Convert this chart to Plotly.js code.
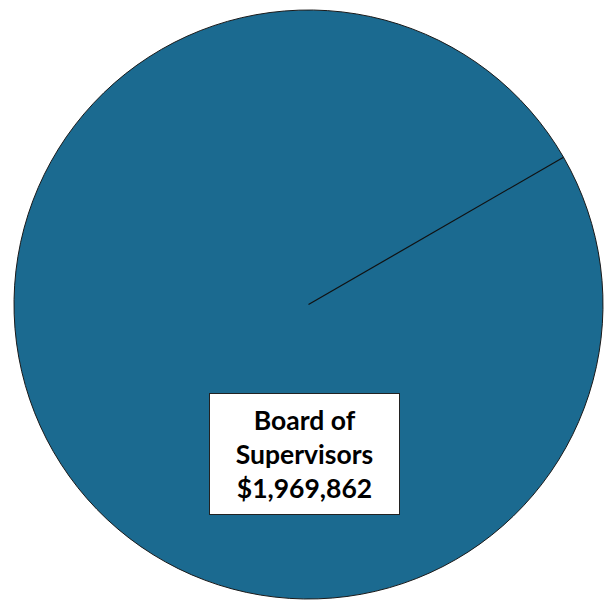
<!DOCTYPE html>
<html>
<head>
<meta charset="utf-8">
<script src="https://cdn.plot.ly/plotly-3.0.1.min.js"></script>
<style>html,body{margin:0;padding:0;background:#fff;}#chart{width:607px;height:601px;}</style>
</head>
<body>
<div id="chart"></div>
<script>
var labels = ['Board of Supervisors'];
var labelLines = ['Board of<br>Supervisors'];
var values = [1969862];
var colors = ['#1b6a90'];
var startAngle = 60;

var W = 607, H = 601;
var margin = {l: 11, r: 1, t: 10, b: 2, pad: 0};
var pw = W - margin.l - margin.r, ph = H - margin.t - margin.b;
var rpx = Math.min(pw, ph) / 2;
var a = startAngle * Math.PI / 180;

function fmt(v) { return '$' + v.toLocaleString('en-US'); }

var data = [{
  type: 'pie',
  labels: labels,
  values: values,
  sort: false,
  direction: 'clockwise',
  rotation: startAngle,
  marker: {colors: colors, line: {color: '#1a1a1a', width: 1}},
  textinfo: 'none',
  hoverinfo: 'label+value',
  showlegend: false
}];

var layout = {
  width: W, height: H,
  margin: margin,
  paper_bgcolor: '#ffffff',
  showlegend: false,
  shapes: [{
    type: 'line', xref: 'paper', yref: 'paper',
    x0: 0.5, y0: 0.5,
    x1: 0.5 + rpx * Math.sin(a) / pw,
    y1: 0.5 + rpx * Math.cos(a) / ph,
    line: {color: '#111111', width: 1.2}
  }],
  annotations: [{
    xref: 'paper', yref: 'paper',
    x: 0.493, y: 0.2466,
    xanchor: 'center', yanchor: 'middle',
    text: '<b>' + labelLines[0] + '<br>' + fmt(values[0]) + '</b>',
    showarrow: false,
    align: 'center',
    font: {family: 'Lato, "Open Sans", sans-serif', size: 26.5, color: '#000000'},
    bgcolor: '#ffffff',
    bordercolor: '#222222',
    borderwidth: 1,
    borderpad: 0,
    width: 189,
    height: 120
  }]
};

Plotly.newPlot('chart', data, layout, {displayModeBar: false, staticPlot: true});
</script>
</body>
</html>
